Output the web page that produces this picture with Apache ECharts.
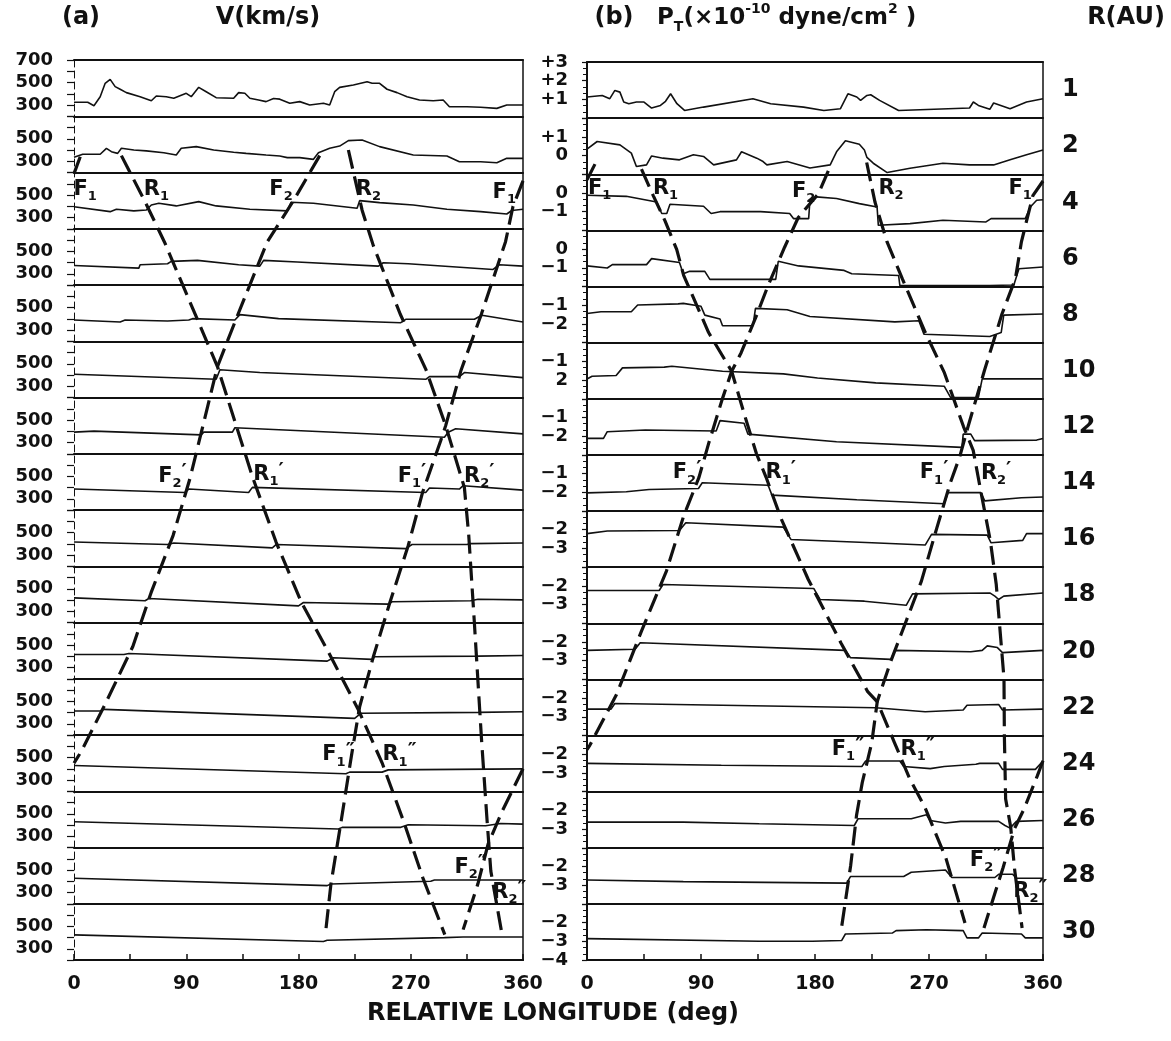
<!DOCTYPE html>
<html>
<head>
<meta charset="utf-8">
<title>V and PT against relative longitude</title>
<script src="https://cdn.jsdelivr.net/npm/echarts@6.0.0/dist/echarts.min.js"></script>
<style>
  html, body { margin: 0; padding: 0; background: #fff; }
  #chart { width: 1171px; height: 1041px; }
</style>
</head>
<body>
<div id="chart"></div>
<script>
// heliocentric distance of each strip
const R_AU = ['1', '2', '4', '6', '8', '10', '12', '14', '16', '18', '20', '22', '24', '26', '28', '30']

// (a) V (km/s) against relative longitude (deg)
const V_R1 = [[0, 324], [11, 324], [16, 294], [21, 374], [25, 493], [29, 528], [33, 463], [37, 440], [42, 410], [53, 374], [62, 338], [66, 380], [74, 374], [80, 360], [90, 404], [94, 374], [100, 457], [106, 418], [114, 365], [128, 360], [132, 410], [137, 404], [141, 360], [148, 344], [154, 330], [160, 358], [165, 352], [173, 315], [181, 330], [189, 300], [200, 315], [205, 300], [209, 418], [213, 457], [224, 478], [235, 507], [239, 493], [245, 493], [251, 440], [259, 410], [267, 374], [277, 344], [288, 338], [296, 344], [301, 285], [315, 285], [326, 280], [339, 270], [347, 300], [360, 300]]
const V_R2 = [[0, 335], [7, 362], [21, 362], [26, 415], [30, 385], [35, 370], [38, 415], [48, 400], [58, 392], [72, 376], [82, 356], [86, 415], [98, 430], [112, 400], [128, 380], [138, 370], [154, 356], [165, 347], [171, 332], [181, 332], [192, 317], [196, 376], [205, 415], [213, 435], [220, 483], [231, 489], [245, 430], [272, 356], [299, 347], [309, 296], [326, 296], [339, 287], [347, 326], [360, 326]]
const V_R4 = [[0, 396], [29, 352], [34, 373], [48, 359], [58, 367], [62, 411], [68, 426], [82, 403], [100, 441], [114, 403], [141, 373], [171, 359], [174, 435], [192, 426], [227, 382], [229, 450], [245, 432], [272, 411], [299, 373], [326, 352], [347, 331], [351, 362], [360, 373]]
const V_R6 = [[0, 374], [52, 350], [53, 380], [75, 389], [78, 410], [99, 419], [132, 380], [149, 368], [152, 419], [179, 404], [244, 368], [248, 398], [268, 389], [336, 338], [341, 380], [360, 368]]
const V_R8 = [[0, 389], [37, 371], [41, 389], [75, 380], [92, 389], [95, 401], [129, 389], [133, 437], [164, 401], [262, 365], [266, 395], [321, 395], [327, 431], [360, 371]]
const V_R10 = [[0, 407], [114, 362], [117, 446], [149, 422], [282, 362], [285, 386], [309, 386], [313, 422], [360, 377]]
const V_R12 = [[0, 392], [16, 401], [102, 368], [104, 392], [127, 392], [129, 431], [297, 347], [300, 392], [306, 422], [360, 377]]
const V_R14 = [[0, 386], [89, 356], [92, 386], [140, 356], [143, 401], [282, 356], [285, 395], [309, 386], [312, 416], [360, 377]]
const V_R16 = [[0, 416], [75, 393], [80, 407], [159, 363], [162, 393], [266, 357], [271, 393], [315, 393], [318, 401], [360, 407]]
const V_R18 = [[0, 419], [57, 393], [60, 413], [180, 348], [184, 378], [252, 363], [255, 384], [318, 393], [324, 407], [360, 401]]
const V_R20 = [[0, 416], [40, 416], [44, 425], [203, 357], [208, 387], [239, 372], [241, 396], [324, 401], [360, 407]]
const V_R22 = [[0, 413], [21, 413], [24, 428], [225, 348], [230, 393], [324, 401], [360, 407]]
const V_R24 = [[0, 429], [218, 355], [221, 370], [247, 370], [252, 390], [360, 399]]
const V_R26 = [[0, 429], [212, 364], [215, 379], [262, 379], [268, 402], [330, 393], [342, 414], [360, 408]]
const V_R28 = [[0, 426], [203, 361], [206, 376], [286, 400], [289, 411], [360, 411]]
const V_R30 = [[0, 423], [200, 364], [203, 376], [297, 399], [312, 405], [360, 405]]
const V_STRIPS = [V_R1, V_R2, V_R4, V_R6, V_R8, V_R10, V_R12, V_R14, V_R16, V_R18, V_R20, V_R22, V_R24, V_R26, V_R28, V_R30]

// (b) PT, axis in powers of ten of 1e-10 dyne/cm2
const P_R1 = [[0, 1.13], [12, 1.21], [18, 1.04], [22, 1.48], [26, 1.39], [29, 0.86], [33, 0.77], [39, 0.86], [45, 0.86], [51, 0.54], [58, 0.68], [62, 0.9], [66, 1.3], [71, 0.77], [77, 0.41], [92, 0.59], [131, 1.04], [145, 0.77], [171, 0.59], [187, 0.41], [200, 0.5], [206, 1.3], [213, 1.13], [216, 0.95], [221, 1.21], [224, 1.25], [231, 0.95], [246, 0.41], [302, 0.54], [305, 0.86], [309, 0.68], [318, 0.47], [321, 0.81], [334, 0.5], [347, 0.86], [360, 1.04]]
const P_R2 = [[0, 0.34], [8, 0.75], [26, 0.57], [35, 0.13], [39, -0.59], [47, -0.5], [51, -0.02], [60, -0.14], [73, -0.23], [84, 0.04], [92, -0.05], [100, -0.5], [118, -0.23], [122, 0.2], [134, -0.14], [139, -0.32], [142, -0.5], [158, -0.32], [176, -0.67], [192, -0.5], [197, 0.2], [204, 0.79], [215, 0.6], [219, 0.3], [221, -0.1], [226, -0.41], [237, -0.91], [255, -0.68], [281, -0.41], [302, -0.5], [321, -0.5], [334, -0.23], [347, 0.04], [360, 0.3]]
const P_R4 = [[0, -0.12], [31, -0.18], [55, -0.48], [59, -1.1], [63, -1.1], [65.5, -0.6], [92, -0.71], [98, -1.1], [105, -1.0], [137, -1.0], [160, -1.1], [163, -1.37], [175, -1.37], [176, -0.39], [181, -0.21], [197, -0.3], [215, -0.57], [229, -0.75], [230, -1.73], [255, -1.64], [281, -1.46], [315, -1.55], [319, -1.37], [346, -1.37], [350, -0.75], [355, -0.39], [360, -0.36]]
const P_R6 = [[0, -0.9], [16, -1.01], [20, -0.83], [47, -0.83], [51, -0.51], [73, -0.72], [76, -1.32], [81, -1.19], [93, -1.19], [97, -1.62], [149, -1.62], [151, -0.65], [167, -0.9], [203, -1.14], [209, -1.32], [246, -1.41], [247, -1.95], [318, -1.95], [337, -1.92], [341, -1.05], [360, -0.96]]
const P_R8 = [[0, -1.44], [11, -1.35], [35, -1.35], [40, -0.99], [72, -0.93], [76, -0.9], [90, -1.06], [93, -1.53], [105, -1.74], [107, -2.1], [131, -2.1], [133, -1.17], [158, -1.24], [176, -1.6], [243, -1.89], [262, -1.83], [266, -2.55], [318, -2.67], [327, -2.46], [329, -1.53], [360, -1.47]]
const P_R10 = [[0, -1.94], [4, -1.8], [23, -1.76], [28, -1.35], [61, -1.31], [67, -1.26], [107, -1.53], [155, -1.67], [182, -1.89], [228, -2.15], [282, -2.33], [287, -2.93], [309, -2.93], [312, -1.94], [360, -1.94]]
const P_R12 = [[0, -2.12], [13, -2.12], [16, -1.76], [46, -1.67], [102, -1.72], [105, -1.17], [124, -1.31], [127, -1.89], [197, -2.3], [296, -2.6], [297, -1.89], [303, -1.89], [306, -2.24], [355, -2.21], [360, -2.12]]
const P_R14 = [[0, -2.03], [31, -1.97], [49, -1.85], [88, -1.8], [91, -1.49], [143, -1.62], [146, -2.15], [213, -2.4], [282, -2.61], [285, -2.02], [311, -2.02], [314, -2.46], [343, -2.29], [360, -2.25]]
const P_R16 = [[0, -2.21], [16, -2.07], [73, -2.04], [78, -1.63], [155, -1.86], [161, -2.52], [225, -2.7], [267, -2.82], [272, -2.25], [316, -2.29], [319, -2.7], [344, -2.57], [347, -2.21], [360, -2.21]]
const P_R18 = [[0, -2.25], [57, -2.25], [60, -1.93], [179, -2.14], [184, -2.73], [219, -2.82], [252, -3.04], [257, -2.43], [318, -2.38], [322, -2.55], [325, -2.73], [329, -2.55], [360, -2.38]]
const P_R20 = [[0, -2.45], [38, -2.39], [42, -2.04], [204, -2.45], [208, -2.84], [240, -2.93], [243, -2.45], [303, -2.52], [312, -2.45], [316, -2.21], [324, -2.3], [328, -2.57], [360, -2.45]]
const P_R22 = [[0, -2.59], [19, -2.59], [22, -2.29], [228, -2.52], [267, -2.73], [297, -2.64], [300, -2.38], [325, -2.34], [328, -2.64], [360, -2.59]]
const P_R24 = [[0, -2.49], [106, -2.59], [217, -2.66], [220, -2.36], [247, -2.36], [250, -2.66], [271, -2.77], [282, -2.66], [307, -2.54], [310, -2.49], [325, -2.49], [328, -2.81], [354, -2.81], [360, -2.36]]
const P_R26 = [[0, -2.63], [76, -2.63], [136, -2.72], [211, -2.81], [214, -2.45], [256, -2.45], [268, -2.24], [271, -2.54], [283, -2.68], [295, -2.59], [325, -2.59], [330, -2.81], [334, -2.95], [339, -2.59], [360, -2.54]]
const P_R28 = [[0, -2.72], [76, -2.81], [205, -2.89], [208, -2.54], [250, -2.54], [256, -2.31], [283, -2.19], [288, -2.59], [322, -2.59], [325, -2.42], [336, -2.42], [339, -2.63], [360, -2.63]]
const P_R30 = [[0, -2.86], [136, -3.0], [178, -3.0], [201, -2.96], [204, -2.61], [241, -2.56], [244, -2.43], [268, -2.38], [297, -2.43], [300, -2.82], [309, -2.82], [312, -2.56], [343, -2.61], [346, -2.82], [360, -2.82]]
const P_STRIPS = [P_R1, P_R2, P_R4, P_R6, P_R8, P_R10, P_R12, P_R14, P_R16, P_R18, P_R20, P_R22, P_R24, P_R26, P_R28, P_R30]

// lower end of each PT strip (each strip spans 3 decades)
const P_MIN = [0, -1, -2, -2, -3, -3, -3, -3, -4, -4, -4, -4, -4, -4, -4, -4]

// tick labels
const V_LABELS_TOP = [700, 500, 300]
const V_LABELS = [500, 300]
const P_LABELS = [
  [[3, '+3'], [2, '+2'], [1, '+1']],
  [[1, '+1'], [0, '0']],
  [[0, '0'], [-1, '−1']],
  [[0, '0'], [-1, '−1']],
  [[-1, '−1'], [-2, '−2']],
  [[-1, '−1'], [-2, '2']],
  [[-1, '−1'], [-2, '−2']],
  [[-1, '−1'], [-2, '−2']],
  [[-2, '−2'], [-3, '−3']],
  [[-2, '−2'], [-3, '−3']],
  [[-2, '−2'], [-3, '−3']],
  [[-2, '−2'], [-3, '−3']],
  [[-2, '−2'], [-3, '−3']],
  [[-2, '−2'], [-3, '−3']],
  [[-2, '−2'], [-3, '−3']],
  [[-2, '−2'], [-3, '−3'], [-4, '−4']]
]

// shock tracks: [longitude, position counted in strips from the top]
const V_TRACKS = [
  [[5, 1.72], [0, 2.02]],
  [[360, 2.15], [352, 2.6], [346, 3.23], [326.6, 4.52], [310.4, 5.51], [298, 6.5], [294, 6.77], [279.7, 7.67], [268, 8.63], [253.2, 9.65], [240, 10.61], [229, 11.5], [222.3, 12.39], [213.4, 13.64], [206, 14.65], [201.7, 15.51]],
  [[38, 1.7], [57, 2.52], [72.4, 3.23], [115, 5.45], [143.4, 7.43], [162, 8.57], [182.5, 9.65], [204.6, 10.55], [228.2, 11.56], [247.3, 12.51], [265, 13.58], [279.7, 14.54], [297.3, 15.55]],
  [[197, 1.7], [176, 2.5], [155, 3.23], [131.5, 4.52], [115, 5.45], [93.1, 7.43], [79.5, 8.45], [61.8, 9.47], [47.1, 10.43], [25, 11.45], [5.9, 12.29], [0, 12.5]],
  [[360, 12.6], [343, 13.37], [332, 13.94], [323.8, 14.65], [312, 15.46]],
  [[220, 1.6], [231, 2.67], [240, 3.3], [261.6, 4.52], [282.3, 5.51], [298, 6.5], [313, 7.6], [316.5, 8.45], [321, 10], [326.8, 12.1], [331.2, 13.52], [334.2, 14.42], [343, 15.52]]
]
const P_TRACKS = [
  [[6.3, 1.82], [0, 2.1]],
  [[360, 2.12], [352, 2.38], [343, 3.2], [338.2, 3.86], [327.6, 4.49], [314, 5.48], [300.4, 6.53], [294.3, 7.03], [286.8, 7.5], [276.2, 8.3], [264, 9.25], [252, 9.96], [239.8, 10.68], [229.2, 11.39], [224.8, 12.13], [217.3, 12.84], [212.8, 13.42], [208.2, 14.31], [200.7, 15.46]],
  [[43, 1.91], [52.3, 2.38], [61.6, 2.83], [70.8, 3.34], [76.3, 3.8], [96, 4.82], [114.2, 5.51], [124.8, 6.32], [133.8, 6.98], [141.4, 7.4], [153.5, 8.15], [174.7, 9.22], [200.5, 10.35], [221.6, 11.22], [229.2, 11.4], [242.8, 12.13], [254.8, 12.77], [266.8, 13.28], [283.4, 14.19], [298.4, 15.34]],
  [[190.5, 1.94], [182.6, 2.35], [166.8, 2.77], [156, 3.3], [143, 3.98], [133.8, 4.52], [121.7, 5.18], [114.2, 5.51], [106.6, 6.02], [96, 6.8], [88.4, 7.4], [76.3, 8.09], [62.7, 9.07], [43, 10.14], [23.3, 11.27], [2.1, 12.18], [0, 12.25]],
  [[360, 12.45], [355.5, 12.72], [345, 13.31], [337.5, 13.66], [328.4, 14.36], [320.9, 14.89], [313.4, 15.43]],
  [[220.8, 1.79], [227.4, 2.5], [236.8, 3.2], [248.9, 3.86], [267.1, 4.82], [282.2, 5.54], [297.3, 6.5], [304.9, 6.92], [311, 7.66], [318.5, 8.54], [323.1, 9.31], [329.2, 10.98], [329.5, 12.0], [330.5, 13.13], [334.5, 13.63], [337.5, 14.37], [343.5, 15.43]]
]

// track names: [longitude, strip position, letter, subscript, primes]
const V_MARKS = [
  [9, 2.3, 'F', '1', ''], [66, 2.3, 'R', '1', ''], [166, 2.3, 'F', '2', ''], [236, 2.3, 'R', '2', ''], [345, 2.35, 'F', '1', ''],
  [79, 7.4, 'F', '2', '′'], [156, 7.37, 'R', '1', '′'], [271, 7.4, 'F', '1', '′'], [325, 7.4, 'R', '2', '′'],
  [212, 12.35, 'F', '1', '″'], [261, 12.35, 'R', '1', '″'], [318, 14.35, 'F', '2', '″'], [349, 14.8, 'R', '2', '″']
]
const P_MARKS = [
  [10, 2.25, 'F', '1', ''], [62, 2.25, 'R', '1', ''], [171, 2.3, 'F', '2', ''], [240, 2.25, 'R', '2', ''], [342, 2.25, 'F', '1', ''],
  [79, 7.32, 'F', '2', '′'], [153, 7.32, 'R', '1', '′'], [274, 7.32, 'F', '1', '′'], [323, 7.33, 'R', '2', '′'],
  [206, 12.25, 'F', '1', '″'], [261, 12.25, 'R', '1', '″'], [315, 14.22, 'F', '2', '″'], [350, 14.78, 'R', '2', '″']
]

const INK = '#111'
const FONT = 'DejaVu Sans'
const LEFT = { x: 74, y: 60, w: 449, h: 900 }
const RIGHT = { x: 587, y: 62, w: 456, h: 898 }
const N = R_AU.length

const chart = echarts.init(document.getElementById('chart'))

function stripGrids(box) {
  return R_AU.map((r, i) => ({ left: box.x, top: box.y + i * box.h / N, width: box.w, height: box.h / N }))
}

function stripX(gi) {
  return {
    gridIndex: gi, type: 'value', min: 0, max: 360,
    axisLine: { show: true, onZero: false, lineStyle: { color: INK, width: 2 } },
    axisTick: { show: false }, axisLabel: { show: false }, splitLine: { show: false }
  }
}

const tickFont = { fontSize: 18, fontWeight: 'bold', color: INK, fontFamily: FONT }

function vY(gi, i) {
  const shown = i === 0 ? V_LABELS_TOP : V_LABELS
  return {
    gridIndex: gi, type: 'value', min: 200, max: 700, interval: 100,
    axisLine: { show: false, onZero: false },
    axisTick: { show: true, length: 7, lineStyle: { color: INK, width: 1.2 } },
    axisLabel: Object.assign({
      margin: 21, showMinLabel: true, showMaxLabel: true,
      formatter: v => shown.includes(v) ? String(v) : ''
    }, tickFont),
    splitLine: { show: false }
  }
}

function pY(gi, i) {
  return {
    gridIndex: gi, type: 'value', min: P_MIN[i], max: P_MIN[i] + 3, interval: 1,
    axisLine: { show: false, onZero: false },
    axisTick: { show: true, length: 5, lineStyle: { color: INK, width: 1.2 } },
    minorTick: { show: true, splitNumber: 3, length: 4, lineStyle: { color: INK, width: 1 } },
    axisLabel: Object.assign({
      margin: 19, showMinLabel: true, showMaxLabel: true,
      formatter: v => {
        const hit = P_LABELS[i].find(t => t[0] === v)
        return hit ? hit[1] : ''
      }
    }, tickFont),
    splitLine: { show: false }
  }
}

function frameX(gi) {
  return [
    {
      gridIndex: gi, type: 'value', min: 0, max: 360, interval: 45, position: 'bottom',
      axisLine: { onZero: false, lineStyle: { color: INK, width: 2 } },
      axisTick: { inside: true, length: 6, lineStyle: { color: INK, width: 1.5 } },
      axisLabel: Object.assign({ margin: 15, formatter: v => v % 90 === 0 ? String(v) : '' }, tickFont, { fontSize: 19 }),
      splitLine: { show: false }
    },
    {
      gridIndex: gi, type: 'value', min: 0, max: 360, position: 'top',
      axisLine: { onZero: false, lineStyle: { color: INK, width: 2 } },
      axisTick: { show: false }, axisLabel: { show: false }, splitLine: { show: false }
    }
  ]
}

function frameY(gi, leftLine, rightAxis) {
  return [
    {
      gridIndex: gi, type: 'value', min: 0, max: 16, inverse: true, position: 'left',
      axisLine: { onZero: false, lineStyle: leftLine },
      axisTick: { show: false }, axisLabel: { show: false }, splitLine: { show: false }
    },
    Object.assign({
      gridIndex: gi, position: 'right', inverse: true,
      axisLine: { onZero: false, lineStyle: { color: INK, width: 1.5 } },
      axisTick: { show: false }, splitLine: { show: false }
    }, rightAxis)
  ]
}

const markRich = {
  m: { fontSize: 21, fontWeight: 'bold', fontFamily: FONT, color: INK, lineHeight: 28 },
  s: { fontSize: 13, fontWeight: 'bold', fontFamily: FONT, color: INK, verticalAlign: 'bottom', lineHeight: 13 },
  p: { fontSize: 20, fontWeight: 'bold', fontFamily: FONT, color: INK, verticalAlign: 'top', lineHeight: 20 }
}

function markName(m) {
  return '{m|' + m[2] + '}{s|' + m[3] + '}' + (m[4] ? '{p|' + m[4] + '}' : '')
}

const grid = [...stripGrids(LEFT), ...stripGrids(RIGHT),
  { left: LEFT.x, top: LEFT.y, width: LEFT.w, height: LEFT.h },
  { left: RIGHT.x, top: RIGHT.y, width: RIGHT.w, height: RIGHT.h }]

const xAxis = [...R_AU.map((r, i) => stripX(i)), ...R_AU.map((r, i) => stripX(N + i)), ...frameX(2 * N), ...frameX(2 * N + 1)]

const yAxis = [...R_AU.map((r, i) => vY(i, i)), ...R_AU.map((r, i) => pY(N + i, i)),
  ...frameY(2 * N, { color: INK, width: 1, type: [7, 4] },
    { type: 'value', min: 0, max: 16, axisLabel: { show: false } }),
  ...frameY(2 * N + 1, { color: INK, width: 2 },
    { type: 'category', data: R_AU, axisLabel: { margin: 19, fontSize: 24, fontWeight: 'bold', color: INK, fontFamily: FONT } })]

const series = []
V_STRIPS.forEach((d, i) => series.push({
  type: 'line', xAxisIndex: i, yAxisIndex: i, data: d, symbol: 'none', silent: true,
  lineStyle: { color: INK, width: 1.6 }
}))
P_STRIPS.forEach((d, i) => series.push({
  type: 'line', xAxisIndex: N + i, yAxisIndex: N + i, data: d, symbol: 'none', silent: true,
  lineStyle: { color: INK, width: 1.6 }
}))

// tracks and their names on the two full-panel frames
;[[V_TRACKS, V_MARKS, 2 * N], [P_TRACKS, P_MARKS, 2 * N + 2]].forEach(([tracks, marks, ax]) => {
  tracks.forEach(t => series.push({
    type: 'line', xAxisIndex: ax, yAxisIndex: ax, data: t, symbol: 'none', silent: true, z: 5,
    lineStyle: { color: INK, width: 3.2, type: [19, 8] }
  }))
  series.push({
    type: 'scatter', xAxisIndex: ax, yAxisIndex: ax, symbolSize: 0, silent: true, z: 6,
    itemStyle: { color: INK, opacity: 1 },
    data: marks.map(m => ({ value: [m[0], m[1]], name: markName(m) })),
    label: { show: true, position: 'inside', color: INK, opacity: 1, formatter: p => p.name, rich: markRich }
  })
})

function title(text, x, y, align, size, rich) {
  return {
    type: 'text', x: x, y: y, silent: true,
    style: {
      text: text, fill: INK, fontSize: size, fontWeight: 'bold', fontFamily: FONT,
      align: align, textAlign: align, verticalAlign: 'middle', textVerticalAlign: 'middle',
      rich: rich
    }
  }
}

const ptRich = {
  t: { fontSize: 23, fontWeight: 'bold', fontFamily: FONT, color: INK, lineHeight: 32 },
  sub: { fontSize: 14, fontWeight: 'bold', fontFamily: FONT, color: INK, verticalAlign: 'bottom', lineHeight: 14 },
  sup: { fontSize: 14, fontWeight: 'bold', fontFamily: FONT, color: INK, verticalAlign: 'top', lineHeight: 16 }
}

const option = {
  animation: false,
  backgroundColor: '#fff',
  textStyle: { fontFamily: FONT, color: INK },
  grid: grid,
  xAxis: xAxis,
  yAxis: yAxis,
  series: series,
  graphic: [
    title('(a)', 81, 18, 'center', 24),
    title('V(km/s)', 268, 18, 'center', 24),
    title('(b)', 614, 18, 'center', 24),
    title('{t|P}{sub|T}{t|(×10}{sup|-10}{t| dyne/cm}{sup|2}{t| )}', 657, 18, 'left', 23, ptRich),
    title('R(AU)', 1126, 18, 'center', 24),
    title('RELATIVE LONGITUDE (deg)', 553, 1014, 'center', 24)
  ]
}

chart.setOption(option)
</script>
</body>
</html>
